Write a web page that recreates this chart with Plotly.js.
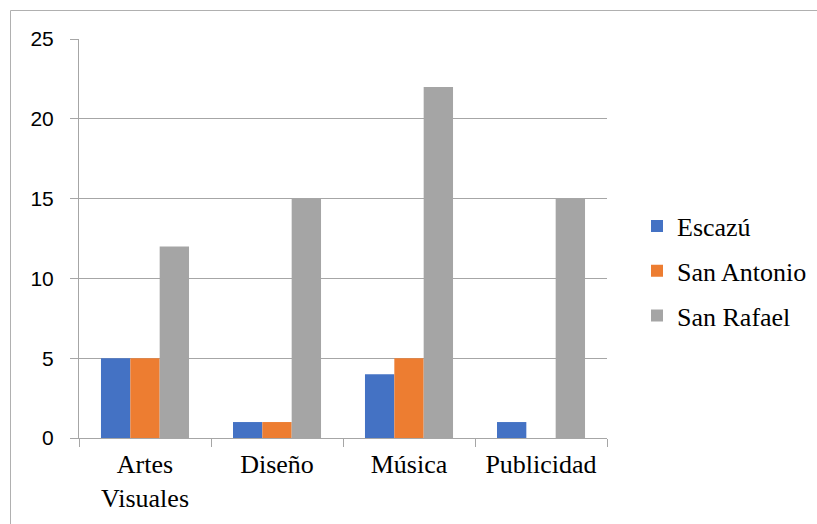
<!DOCTYPE html>
<html>
<head>
<meta charset="utf-8">
<script src="https://cdn.plot.ly/plotly-3.0.1.min.js"></script>
<style>html,body{margin:0;padding:0;background:#fff;}#chart{width:817px;height:524px;}</style>
</head>
<body>
<div id="chart"></div>
<script>
const categories = ["Artes<br>Visuales", "Diseño", "Música", "Publicidad"];
const seriesNames = ["Escazú", "San Antonio", "San Rafael"];
const escazu = [5, 1, 4, 1];
const sanAntonio = [5, 1, 5, 0];
const sanRafael = [12, 15, 22, 15];
const yTicks = [0, 5, 10, 15, 20, 25];
const colors = ["#4472C4", "#ED7D31", "#A5A5A5"];

const values = [escazu, sanAntonio, sanRafael];
const traces = values.map((v, i) => ({
  type: "bar",
  name: seriesNames[i],
  x: categories,
  y: v,
  legendgroup: "g" + i,
  marker: {color: colors[i], line: {width: 0}},
  hoverinfo: "none"
}));

const SERIF = "Liberation Serif";
const SANS = "Liberation Sans";

const L = 79, R = 210, T = 39, B = 86;
const pw = 817 - L - R, ph = 524 - T - B;
const px = v => (v - L) / pw;
const py = v => (524 - B - v) / ph;

const layout = {
  width: 817, height: 524,
  margin: {l: L, r: R, t: T, b: B, pad: 0, autoexpand: false},
  font: {family: SERIF, size: 26, color: "#000"},
  paper_bgcolor: "#fff", plot_bgcolor: "#fff",
  barmode: "group",
  bargap: 0.333, bargroupgap: 0,
  showlegend: true,
  legend: {
    x: px(637), y: py(271), xanchor: "left", yanchor: "middle",
    font: {family: SERIF, size: 26, color: "#000"},
    tracegroupgap: 8, traceorder: "grouped",
    bgcolor: "rgba(0,0,0,0)"
  },
  xaxis: {
    type: "category",
    showline: true, linecolor: "#a6a6a6", linewidth: 1,
    ticks: "outside", tickson: "boundaries", ticklen: 8, tickcolor: "#a6a6a6",
    showgrid: false, zeroline: false,
    ticklabelstandoff: 3,
    tickfont: {family: SERIF, size: 26, color: "#000"},
    fixedrange: true
  },
  yaxis: {
    range: [0, 25],
    tickvals: yTicks,
    ticktext: yTicks.map(String),
    showline: true, linecolor: "#a6a6a6", linewidth: 1,
    ticks: "outside", ticklen: 8, tickcolor: "#a6a6a6",
    showgrid: true, gridcolor: "#a6a6a6", gridwidth: 1,
    zeroline: false,
    ticklabelstandoff: 12,
    tickfont: {family: SANS, size: 21, color: "#000"},
    fixedrange: true
  },
  shapes: [{
    type: "rect", xref: "paper", yref: "paper",
    x0: px(10.5), x1: px(830), y0: py(540), y1: py(10.5),
    line: {color: "#b0b0b0", width: 1}, fillcolor: "rgba(0,0,0,0)", layer: "below"
  }]
};

Plotly.newPlot("chart", traces, layout, {displayModeBar: false});
</script>
</body>
</html>
